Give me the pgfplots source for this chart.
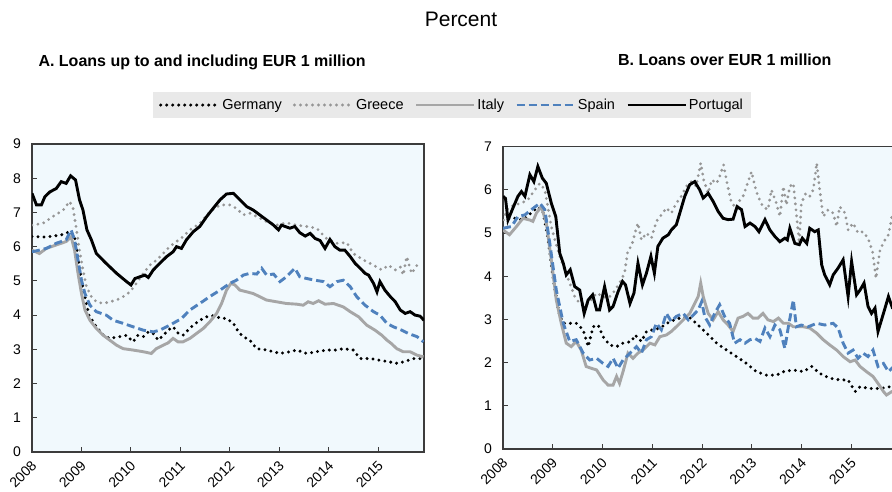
\documentclass[border=0pt]{standalone}
\usepackage{fontspec}
\setmainfont{Liberation Sans}
\usepackage{pgfplots}
\pgfplotsset{compat=1.18}

\definecolor{plotbg}{RGB}{241,249,253}
\definecolor{legbg}{RGB}{233,233,233}
\definecolor{spainblue}{RGB}{79,129,189}
\definecolor{italygray}{RGB}{166,166,166}
\definecolor{greecegray}{RGB}{150,150,150}
\definecolor{axisgray}{RGB}{60,60,60}

\pgfplotsset{
  panel/.style={
    scale only axis,
    axis background/.style={fill=plotbg},
    xmin=2008, xmax=2015.92, ymin=0,
    xtick={2008,2009,...,2015},
    xtick pos=bottom, ytick pos=left,
    tick align=inside, major tick length=5pt,
    tick style={axisgray, line width=1pt},
    axis line style={axisgray, line width=1.3pt},
    ticklabel style={font=\fontsize{14}{14}\selectfont},
    xticklabel style={xshift=2.5pt, yshift=-11pt, rotate=45, anchor=east, inner sep=0.5pt},
    yticklabel style={anchor=east, inner sep=0pt, xshift=-11pt},
    /pgf/number format/.cd, 1000 sep={}, assume math mode=true,
  },
  germany/.style={black, line width=3.3pt, line cap=round, dash pattern=on 0pt off 6pt},
  greece/.style={greecegray, line width=3.1pt, line cap=round, dash pattern=on 0pt off 6pt},
  italy/.style={italygray, line width=2.9pt},
  spain/.style={spainblue, line width=2.9pt, dash pattern=on 8pt off 4pt},
  portugal/.style={black, line width=2.9pt},
}

\begin{document}
\begin{tikzpicture}
\useasboundingbox (0pt,0pt) rectangle (892pt,-491pt);
\clip (0pt,0pt) rectangle (892pt,-491pt);

\node[anchor=base, font=\fontsize{21}{21}\selectfont] at (461pt,-26pt) {Percent};
\node[anchor=base west, font=\bfseries\fontsize{16}{16}\selectfont] at (35pt,-66pt) {A. Loans up to and including EUR 1 million};
\node[anchor=base east, font=\bfseries\fontsize{16}{16}\selectfont] at (835pt,-65pt) {B. Loans over EUR 1 million};

% Panel A
\begin{axis}[panel,
  at={(32pt,-452pt)}, anchor=south west,
  width=392pt, height=308pt,
  ymax=9, ytick={0,1,...,9},
  legend columns=5,
  legend image code/.code={\draw[#1] (0pt,0pt) -- (58pt,0pt);},
  legend style={at={(1.0714,1.1266)}, anchor=center, fill=legbg, draw=none,
    font=\fontsize{14.5}{15}\selectfont, inner xsep=6pt, inner ysep=5pt,
    /tikz/every even column/.append style={column sep=9pt}},
]
\addplot[germany] coordinates {(2008.00,6.30)(2008.20,6.28)(2008.40,6.30)(2008.60,6.35)(2008.78,6.45)(2008.88,6.20)(2009.00,5.00)(2009.15,4.00)(2009.30,3.66)(2009.45,3.40)(2009.57,3.32)(2009.77,3.37)(2009.91,3.41)(2010.04,3.22)(2010.14,3.41)(2010.25,3.37)(2010.35,3.51)(2010.45,3.46)(2010.55,3.27)(2010.65,3.41)(2010.75,3.56)(2010.85,3.66)(2010.95,3.48)(2011.05,3.41)(2011.15,3.56)(2011.26,3.71)(2011.39,3.85)(2011.53,3.95)(2011.66,3.98)(2011.80,3.92)(2011.93,3.90)(2012.07,3.76)(2012.17,3.51)(2012.27,3.37)(2012.40,3.27)(2012.54,3.02)(2012.74,2.98)(2012.88,2.93)(2013.01,2.88)(2013.21,2.93)(2013.35,2.98)(2013.55,2.88)(2013.75,2.93)(2013.95,2.98)(2014.16,2.98)(2014.29,3.02)(2014.49,2.98)(2014.63,2.73)(2014.83,2.73)(2015.03,2.68)(2015.24,2.63)(2015.34,2.59)(2015.50,2.63)(2015.71,2.73)(2015.91,2.73)};
\addplot[greece] coordinates {(2008.00,6.63)(2008.22,6.68)(2008.42,6.88)(2008.63,7.07)(2008.76,7.32)(2008.83,7.12)(2008.90,6.49)(2008.96,5.90)(2009.03,5.32)(2009.10,4.83)(2009.20,4.54)(2009.30,4.39)(2009.44,4.34)(2009.57,4.39)(2009.71,4.44)(2009.84,4.54)(2009.98,4.68)(2010.11,4.93)(2010.25,5.22)(2010.38,5.46)(2010.52,5.61)(2010.65,5.80)(2010.78,6.00)(2010.92,6.15)(2011.05,6.29)(2011.19,6.49)(2011.39,6.68)(2011.59,7.02)(2011.80,7.22)(2012.00,7.22)(2012.13,7.12)(2012.27,6.93)(2012.40,6.98)(2012.54,6.88)(2012.74,6.73)(2012.94,6.63)(2013.14,6.70)(2013.35,6.63)(2013.55,6.59)(2013.75,6.54)(2013.95,6.24)(2014.16,6.10)(2014.36,6.12)(2014.49,5.80)(2014.70,5.61)(2014.90,5.46)(2015.07,5.32)(2015.20,5.46)(2015.34,5.32)(2015.44,5.41)(2015.50,5.17)(2015.57,5.71)(2015.67,5.22)(2015.78,5.46)(2015.88,5.51)};
\addplot[italy] coordinates {(2008.00,5.90)(2008.15,5.80)(2008.29,5.95)(2008.49,6.05)(2008.69,6.15)(2008.79,6.29)(2008.86,5.90)(2008.93,5.22)(2009.00,4.63)(2009.07,4.15)(2009.17,3.85)(2009.30,3.61)(2009.44,3.41)(2009.57,3.27)(2009.71,3.12)(2009.84,3.02)(2010.04,2.98)(2010.25,2.93)(2010.41,2.88)(2010.51,3.02)(2010.65,3.12)(2010.75,3.19)(2010.85,3.32)(2010.95,3.22)(2011.05,3.22)(2011.19,3.32)(2011.32,3.46)(2011.46,3.61)(2011.59,3.80)(2011.73,4.05)(2011.83,4.34)(2011.93,4.73)(2012.02,4.93)(2012.10,4.88)(2012.20,4.73)(2012.34,4.68)(2012.47,4.63)(2012.60,4.54)(2012.74,4.44)(2012.94,4.39)(2013.14,4.34)(2013.35,4.32)(2013.48,4.29)(2013.58,4.39)(2013.68,4.34)(2013.79,4.42)(2013.92,4.32)(2014.09,4.34)(2014.29,4.24)(2014.43,4.10)(2014.60,3.95)(2014.76,3.71)(2014.93,3.56)(2015.07,3.41)(2015.17,3.27)(2015.26,3.17)(2015.37,3.02)(2015.50,2.93)(2015.64,2.93)(2015.78,2.83)(2015.91,2.78)};
\addplot[spain] coordinates {(2008.00,5.85)(2008.15,5.90)(2008.29,5.95)(2008.49,6.10)(2008.69,6.20)(2008.79,6.49)(2008.86,6.20)(2008.93,5.61)(2009.00,5.02)(2009.07,4.63)(2009.17,4.29)(2009.30,4.10)(2009.50,4.00)(2009.64,3.85)(2009.84,3.76)(2010.04,3.66)(2010.25,3.56)(2010.45,3.51)(2010.58,3.56)(2010.72,3.66)(2010.85,3.76)(2011.02,3.90)(2011.19,4.15)(2011.39,4.34)(2011.59,4.54)(2011.80,4.73)(2012.00,4.93)(2012.13,5.02)(2012.27,5.17)(2012.40,5.22)(2012.54,5.20)(2012.64,5.37)(2012.74,5.17)(2012.88,5.20)(2013.01,4.98)(2013.14,5.12)(2013.31,5.37)(2013.41,5.12)(2013.55,5.07)(2013.72,5.02)(2013.89,4.98)(2014.02,4.83)(2014.16,4.98)(2014.29,5.02)(2014.43,4.83)(2014.56,4.54)(2014.73,4.29)(2014.90,4.10)(2015.03,4.00)(2015.17,3.76)(2015.30,3.66)(2015.47,3.56)(2015.61,3.46)(2015.78,3.37)(2015.91,3.22)};
\addplot[portugal] coordinates {(2008.00,7.56)(2008.09,7.22)(2008.19,7.22)(2008.26,7.46)(2008.36,7.60)(2008.49,7.70)(2008.59,7.90)(2008.69,7.85)(2008.78,8.07)(2008.88,7.95)(2008.96,7.37)(2009.03,7.07)(2009.11,6.49)(2009.20,6.20)(2009.30,5.80)(2009.50,5.51)(2009.71,5.22)(2009.91,4.98)(2010.00,4.88)(2010.08,5.07)(2010.18,5.12)(2010.28,5.17)(2010.35,5.10)(2010.45,5.32)(2010.58,5.51)(2010.72,5.71)(2010.85,5.85)(2010.92,6.00)(2011.02,5.95)(2011.12,6.20)(2011.26,6.44)(2011.39,6.59)(2011.53,6.88)(2011.66,7.12)(2011.80,7.37)(2011.93,7.54)(2012.07,7.56)(2012.20,7.37)(2012.34,7.17)(2012.47,7.07)(2012.60,6.93)(2012.74,6.78)(2012.88,6.63)(2012.98,6.49)(2013.04,6.63)(2013.21,6.54)(2013.31,6.59)(2013.41,6.41)(2013.52,6.31)(2013.62,6.39)(2013.72,6.24)(2013.82,6.18)(2013.92,5.95)(2014.02,6.21)(2014.12,6.00)(2014.22,5.90)(2014.32,5.90)(2014.43,5.71)(2014.53,5.51)(2014.63,5.37)(2014.73,5.22)(2014.80,5.17)(2014.90,4.93)(2014.97,4.68)(2015.03,4.98)(2015.13,4.73)(2015.24,4.54)(2015.34,4.39)(2015.44,4.15)(2015.54,4.05)(2015.64,4.10)(2015.74,4.00)(2015.84,3.97)(2015.92,3.85)};
\legend{Germany, Greece, Italy, Spain, Portugal}
\end{axis}

% Panel B
\begin{axis}[panel,
  at={(503pt,-449pt)}, anchor=south west,
  width=394.4pt, height=302.4pt,
  ymax=7, ytick={0,1,...,7},
]
\addplot[germany] coordinates {(2008.00,5.30)(2008.20,5.35)(2008.40,5.30)(2008.55,5.45)(2008.70,5.60)(2008.80,5.50)(2008.90,4.90)(2009.00,4.00)(2009.10,3.30)(2009.15,3.05)(2009.21,2.91)(2009.47,2.91)(2009.61,2.76)(2009.71,2.37)(2009.81,2.83)(2009.91,2.87)(2010.01,2.60)(2010.14,2.41)(2010.28,2.37)(2010.41,2.45)(2010.58,2.49)(2010.65,2.64)(2010.78,2.49)(2010.88,2.72)(2011.01,2.76)(2011.15,2.80)(2011.35,2.95)(2011.55,3.03)(2011.72,3.07)(2011.88,2.91)(2012.09,2.68)(2012.29,2.45)(2012.49,2.29)(2012.69,2.14)(2012.89,1.98)(2013.09,1.79)(2013.29,1.71)(2013.49,1.71)(2013.63,1.79)(2013.83,1.83)(2014.03,1.79)(2014.20,1.91)(2014.36,1.75)(2014.56,1.64)(2014.76,1.60)(2014.93,1.60)(2015.07,1.33)(2015.17,1.44)(2015.37,1.40)(2015.57,1.40)(2015.77,1.44)(2015.92,1.42)};
\addplot[greece] coordinates {(2008.00,5.30)(2008.10,5.58)(2008.23,5.65)(2008.37,5.69)(2008.50,5.77)(2008.64,6.00)(2008.74,6.15)(2008.84,6.00)(2008.90,5.61)(2008.97,5.15)(2009.06,4.76)(2009.14,4.46)(2009.24,4.15)(2009.34,3.84)(2009.44,3.53)(2009.54,3.37)(2009.64,3.30)(2009.74,3.41)(2009.88,3.61)(2010.01,3.53)(2010.11,3.49)(2010.21,3.61)(2010.34,3.84)(2010.44,4.07)(2010.51,4.61)(2010.58,4.69)(2010.65,5.00)(2010.71,5.23)(2010.78,4.84)(2010.88,5.00)(2010.98,4.88)(2011.08,5.27)(2011.18,5.42)(2011.28,5.58)(2011.38,5.46)(2011.48,5.69)(2011.58,5.85)(2011.68,6.08)(2011.78,6.19)(2011.88,6.08)(2011.97,6.62)(2012.03,6.23)(2012.12,5.92)(2012.19,6.23)(2012.29,6.15)(2012.35,6.31)(2012.43,6.58)(2012.50,6.15)(2012.59,5.69)(2012.69,5.58)(2012.76,5.77)(2012.82,5.85)(2012.89,6.08)(2012.99,6.42)(2013.06,6.08)(2013.12,5.85)(2013.22,5.61)(2013.32,5.54)(2013.39,6.00)(2013.49,5.69)(2013.56,5.38)(2013.63,6.08)(2013.69,5.65)(2013.76,6.08)(2013.83,6.15)(2013.89,5.46)(2013.95,4.76)(2013.99,5.69)(2014.08,5.92)(2014.16,5.85)(2014.23,6.00)(2014.30,6.62)(2014.36,6.00)(2014.43,5.38)(2014.53,5.54)(2014.63,5.46)(2014.70,5.15)(2014.76,5.61)(2014.87,5.46)(2014.93,5.07)(2015.03,5.23)(2015.13,5.00)(2015.23,5.03)(2015.33,4.88)(2015.42,4.57)(2015.49,3.95)(2015.57,4.61)(2015.67,4.84)(2015.74,4.96)(2015.81,5.38)(2015.92,5.20)};
\addplot[italy] coordinates {(2008.00,5.07)(2008.13,4.96)(2008.27,5.15)(2008.40,5.34)(2008.54,5.30)(2008.60,5.27)(2008.67,5.46)(2008.77,5.61)(2008.87,5.23)(2008.97,4.38)(2009.07,3.45)(2009.17,2.91)(2009.27,2.45)(2009.37,2.37)(2009.47,2.49)(2009.57,2.29)(2009.67,1.91)(2009.77,1.87)(2009.88,1.83)(2010.01,1.60)(2010.11,1.48)(2010.21,1.48)(2010.28,1.68)(2010.34,1.52)(2010.41,1.79)(2010.51,2.22)(2010.61,2.10)(2010.71,2.22)(2010.81,2.29)(2010.95,2.45)(2011.05,2.41)(2011.15,2.60)(2011.28,2.64)(2011.38,2.72)(2011.48,2.83)(2011.62,2.99)(2011.75,3.14)(2011.85,3.37)(2011.92,3.53)(2011.97,3.84)(2012.02,3.53)(2012.12,3.14)(2012.22,2.99)(2012.32,3.18)(2012.42,2.99)(2012.52,2.87)(2012.62,2.72)(2012.72,3.03)(2012.82,3.07)(2012.92,3.14)(2013.02,3.03)(2013.12,3.03)(2013.22,3.14)(2013.32,2.99)(2013.43,2.95)(2013.53,3.03)(2013.63,2.91)(2013.73,2.91)(2013.83,2.83)(2013.93,2.83)(2014.03,2.83)(2014.16,2.80)(2014.30,2.68)(2014.43,2.53)(2014.56,2.41)(2014.70,2.29)(2014.83,2.14)(2014.97,2.02)(2015.07,2.06)(2015.17,1.91)(2015.30,1.79)(2015.43,1.68)(2015.53,1.52)(2015.64,1.33)(2015.70,1.25)(2015.81,1.33)(2015.92,1.30)};
\addplot[spain] coordinates {(2008.00,5.11)(2008.17,5.15)(2008.30,5.38)(2008.44,5.42)(2008.57,5.54)(2008.74,5.69)(2008.84,5.54)(2008.94,4.76)(2009.07,3.68)(2009.21,2.91)(2009.34,2.49)(2009.47,2.53)(2009.61,2.22)(2009.74,2.06)(2009.88,2.10)(2010.01,1.98)(2010.11,1.91)(2010.21,2.10)(2010.31,1.87)(2010.41,2.06)(2010.55,2.22)(2010.68,2.37)(2010.78,2.22)(2010.88,2.53)(2010.98,2.60)(2011.08,2.91)(2011.18,2.76)(2011.28,3.14)(2011.38,2.95)(2011.48,3.07)(2011.62,3.14)(2011.72,2.99)(2011.82,3.10)(2011.92,3.22)(2011.99,3.41)(2012.05,3.07)(2012.15,2.87)(2012.25,3.14)(2012.35,3.34)(2012.45,3.07)(2012.55,2.91)(2012.65,2.45)(2012.76,2.53)(2012.86,2.45)(2012.96,2.53)(2013.06,2.56)(2013.16,2.49)(2013.26,2.80)(2013.36,2.60)(2013.46,2.87)(2013.56,2.76)(2013.66,2.33)(2013.73,2.83)(2013.83,3.45)(2013.89,2.83)(2013.99,2.87)(2014.13,2.83)(2014.30,2.91)(2014.46,2.87)(2014.63,2.91)(2014.73,2.80)(2014.83,2.45)(2014.93,2.22)(2015.03,2.29)(2015.13,2.10)(2015.23,2.22)(2015.33,2.14)(2015.43,2.29)(2015.53,1.91)(2015.64,1.98)(2015.74,1.79)(2015.81,1.87)(2015.92,1.80)};
\addplot[portugal] coordinates {(2008.00,5.85)(2008.05,5.80)(2008.10,5.30)(2008.20,5.58)(2008.30,5.85)(2008.37,5.96)(2008.44,5.85)(2008.54,6.35)(2008.62,6.19)(2008.70,6.54)(2008.79,6.27)(2008.87,6.15)(2008.97,5.69)(2009.06,5.38)(2009.14,4.53)(2009.21,4.30)(2009.27,4.03)(2009.35,4.15)(2009.44,3.76)(2009.54,3.68)(2009.63,3.14)(2009.71,3.45)(2009.80,3.57)(2009.88,3.22)(2009.94,3.22)(2010.04,3.76)(2010.14,3.22)(2010.21,3.30)(2010.31,3.64)(2010.40,3.88)(2010.46,3.80)(2010.55,3.37)(2010.63,3.61)(2010.71,4.30)(2010.80,3.80)(2010.88,4.07)(2010.97,4.46)(2011.04,4.07)(2011.11,4.69)(2011.21,4.88)(2011.32,4.96)(2011.38,5.07)(2011.48,5.19)(2011.55,5.46)(2011.65,5.85)(2011.75,6.12)(2011.85,6.19)(2011.95,6.00)(2012.02,5.81)(2012.12,5.92)(2012.22,5.73)(2012.32,5.50)(2012.42,5.34)(2012.52,5.31)(2012.62,5.32)(2012.70,5.61)(2012.79,5.54)(2012.86,5.15)(2012.96,5.23)(2013.06,5.15)(2013.14,5.03)(2013.26,5.31)(2013.36,5.07)(2013.46,4.92)(2013.56,4.80)(2013.66,4.88)(2013.71,4.84)(2013.76,5.11)(2013.86,4.76)(2013.95,4.73)(2014.01,4.88)(2014.10,4.76)(2014.16,5.11)(2014.26,5.03)(2014.33,5.07)(2014.40,4.26)(2014.46,4.03)(2014.56,3.80)(2014.63,4.03)(2014.73,4.19)(2014.83,4.38)(2014.93,3.53)(2015.00,4.34)(2015.10,3.57)(2015.17,3.68)(2015.25,3.84)(2015.33,3.30)(2015.40,3.14)(2015.47,3.26)(2015.53,2.72)(2015.64,3.14)(2015.74,3.53)(2015.81,3.30)(2015.92,3.45)};
\end{axis}
\end{tikzpicture}
\end{document}
